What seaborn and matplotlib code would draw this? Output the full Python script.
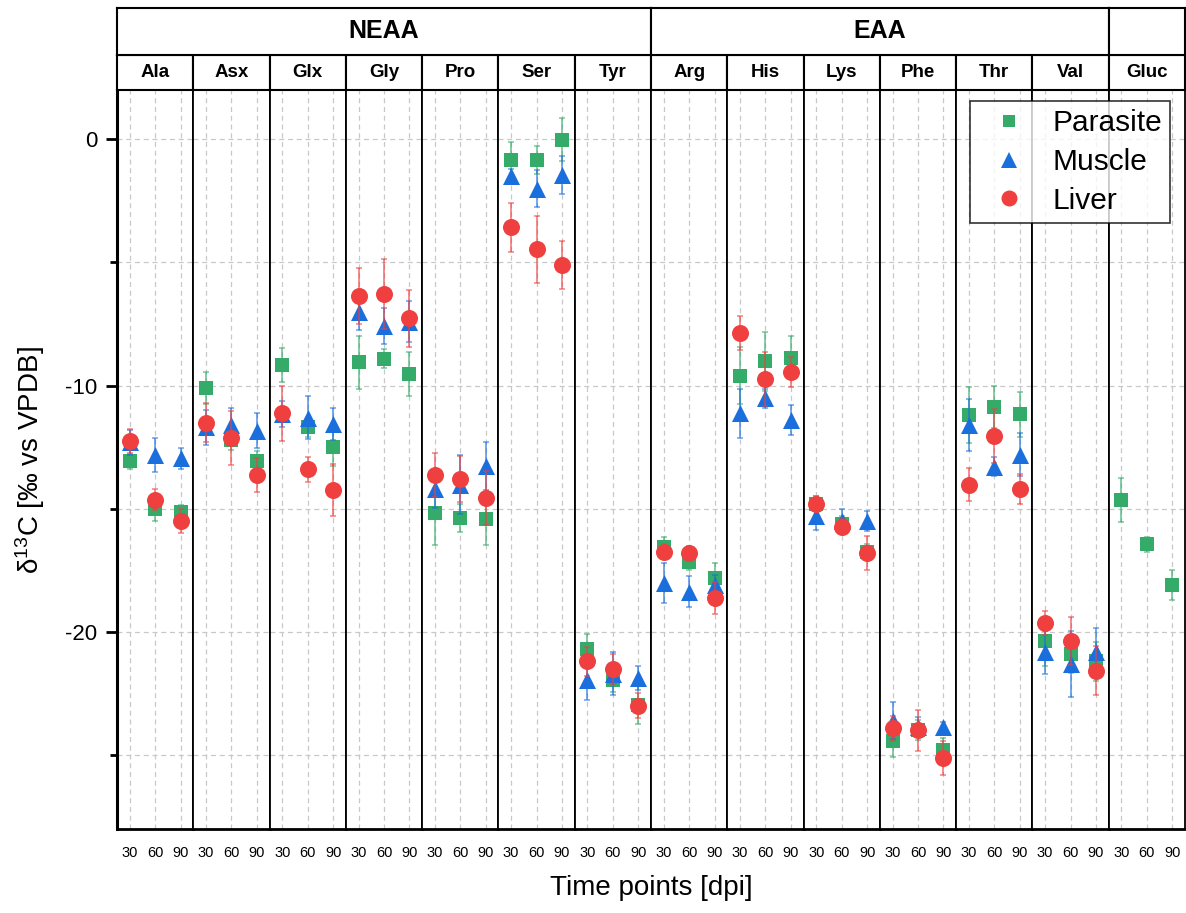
import numpy as np
import pandas as pd
import matplotlib
matplotlib.use("Agg")
import matplotlib.pyplot as plt
import seaborn as sns
from matplotlib.lines import Line2D

# ---------------- data ----------------
panels = ["Ala", "Asx", "Glx", "Gly", "Pro", "Ser", "Tyr",
          "Arg", "His", "Lys", "Phe", "Thr", "Val", "Gluc"]
groups = [("NEAA", 0, 7), ("EAA", 7, 13), ("", 13, 14)]
time_points = [30, 60, 90]
tissues = ["Parasite", "Muscle", "Liver"]

parasite_mean = [
    [-13.07, -15.00, -15.15], [-10.10, -12.20, -13.07], [-9.17, -11.70, -12.50],
    [-9.06, -8.90, -9.53], [-15.19, -15.39, -15.43], [-0.83, -0.83, -0.01],
    [-20.69, -21.95, -22.95], [-16.54, -17.17, -17.82], [-9.59, -9.02, -8.86],
    [-14.80, -15.60, -16.74], [-24.44, -23.98, -24.80], [-11.20, -10.88, -11.17],
    [-20.38, -20.90, -21.20], [-14.66, -16.45, -18.10]]
parasite_err = [
    [0.30, 0.50, 0.30], [0.65, 0.40, 0.40], [0.70, 0.40, 0.78],
    [1.06, 0.39, 0.91], [1.30, 0.57, 1.05], [0.73, 0.56, 0.89],
    [0.60, 0.50, 0.80], [0.40, 0.30, 0.60], [1.14, 1.20, 0.87],
    [0.30, 0.30, 0.30], [0.65, 0.40, 0.50], [1.14, 0.85, 0.93],
    [1.00, 0.75, 0.80], [0.89, 0.30, 0.60]]

muscle_mean = [
    [-12.30, -12.80, -12.95], [-11.70, -11.60, -11.83], [-11.15, -11.30, -11.56],
    [-7.00, -7.60, -7.40], [-14.20, -14.02, -13.25], [-1.49, -2.00, -1.45],
    [-21.97, -21.70, -21.87], [-18.00, -18.36, -18.10], [-11.13, -10.52, -11.39],
    [-15.30, -15.50, -15.50], [-23.60, -23.85, -23.84], [-11.60, -13.29, -12.80],
    [-20.83, -21.30, -20.83], [np.nan, np.nan, np.nan]]
muscle_err = [
    [0.50, 0.69, 0.42], [0.70, 0.70, 0.70], [0.52, 0.88, 0.65],
    [0.74, 0.73, 0.85], [0.77, 1.20, 0.98], [0.30, 0.74, 0.76],
    [0.80, 0.87, 0.49], [0.81, 0.64, 0.40], [1.00, 0.40, 0.60],
    [0.58, 0.50, 0.40], [0.75, 0.40, 0.20], [1.07, 0.40, 0.86],
    [0.88, 1.35, 1.00], [np.nan, np.nan, np.nan]]

liver_mean = [
    [-12.25, -14.63, -15.50], [-11.50, -12.14, -13.63], [-11.13, -13.40, -14.25],
    [-6.37, -6.30, -7.27], [-13.63, -13.79, -14.55], [-3.58, -4.47, -5.10],
    [-21.20, -21.50, -22.99], [-16.74, -16.80, -18.62], [-7.87, -9.74, -9.44],
    [-14.80, -15.73, -16.80], [-23.91, -24.00, -25.12], [-14.02, -12.03, -14.20],
    [-19.63, -20.38, -21.57], [np.nan, np.nan, np.nan]]
liver_err = [
    [0.50, 0.43, 0.50], [0.80, 1.10, 0.68], [1.10, 0.50, 1.06],
    [1.13, 1.42, 1.15], [0.90, 0.93, 1.10], [0.98, 1.36, 0.96],
    [0.60, 0.60, 0.50], [0.30, 0.30, 0.64], [0.70, 1.10, 0.62],
    [0.30, 0.30, 0.70], [0.50, 0.83, 0.70], [0.67, 1.10, 0.60],
    [0.50, 0.98, 0.98], [np.nan, np.nan, np.nan]]

colors = {"Parasite": "#34ab69", "Muscle": "#1a6fdc", "Liver": "#ef3f3f"}
markers = {"Parasite": "s", "Muscle": "^", "Liver": "o"}
sizes = {"Parasite": 100, "Muscle": 150, "Liver": 150}

rows = []
for tissue, means, errs in [("Parasite", parasite_mean, parasite_err),
                            ("Muscle", muscle_mean, muscle_err),
                            ("Liver", liver_mean, liver_err)]:
    for p, m_row, e_row in zip(panels, means, errs):
        for t, m, e in zip(time_points, m_row, e_row):
            rows.append(dict(panel=p, time=t, tissue=tissue, value=m, err=e))
df = pd.DataFrame(rows).dropna()

# ---------------- figure ----------------
sns.set_theme(style="white")
plt.rcParams['font.family'] = ['Liberation Sans', 'DejaVu Sans']
plt.rcParams['mathtext.fontset'] = 'custom'
plt.rcParams['mathtext.rm'] = 'Liberation Sans'
plt.rcParams['mathtext.it'] = 'Liberation Sans:italic'
for key in ['text.color', 'axes.labelcolor', 'xtick.color', 'ytick.color']:
    plt.rcParams[key] = 'black'

W, H = 1186, 913
fig = plt.figure(figsize=(W / 100, H / 100), dpi=100)

left_px, right_px = 117, 1185
top_px, bottom_px = 90, 829
n = len(panels)
pw = (right_px - left_px) / n

def fx(px):
    return px / W

def fy(py):
    return 1 - py / H

axes = []
for i, p in enumerate(panels):
    ax = fig.add_axes([fx(left_px + i * pw), fy(bottom_px), pw / W, (bottom_px - top_px) / H])
    axes.append(ax)
    ax.set_xlim(15, 105)
    ax.set_ylim(-28, 2)
    for yv in range(-25, 1, 5):
        ax.axhline(yv, color="#c8c8c8", lw=0.9, ls=(0, (4, 3)), zorder=0)
    for xv in time_points:
        ax.axvline(xv, color="#c8c8c8", lw=0.9, ls=(0, (4, 3)), zorder=0)
    sub = df[df.panel == p]
    for k, tissue in enumerate(tissues):
        s2 = sub[sub.tissue == tissue]
        if s2.empty:
            continue
        ax.errorbar(s2.time, s2.value, yerr=s2.err, fmt="none", ecolor=colors[tissue],
                    alpha=0.65, elinewidth=1.3, capsize=2.5, capthick=1.1, zorder=2 + 2 * k)
        sns.scatterplot(data=s2, x="time", y="value", marker=markers[tissue],
                        color=colors[tissue], s=sizes[tissue], linewidth=0,
                        ax=ax, legend=False, zorder=3 + 2 * k)
    ax.set_xlabel("")
    ax.set_ylabel("")
    ax.set_xticks(time_points)
    ax.set_xticklabels([str(t) for t in time_points], fontsize=10.5, color="black")
    ax.tick_params(axis="x", length=0, pad=12, colors="black")
    for sp in ax.spines.values():
        sp.set_color("black")
        sp.set_linewidth(1.3)
    ax.spines["bottom"].set_linewidth(2)
    if i == 0:
        ax.spines["left"].set_linewidth(2.2)
        ax.set_yticks([0, -10, -20])
        ax.set_yticklabels(["0", "-10", "-20"], fontsize=16, color="black")
        ax.set_yticks([-5, -15, -25], minor=True)
        ax.tick_params(axis="y", which="major", direction="out", length=8, width=2, pad=6, left=True, colors="black")
        ax.tick_params(axis="y", which="minor", direction="out", length=5, width=2, left=True, colors="black")
    else:
        ax.set_yticks([])
        ax.tick_params(axis="y", left=False)

# header row: panel names
name_top, name_bot = 55, 90
for i, p in enumerate(panels):
    hax = fig.add_axes([fx(left_px + i * pw), fy(name_bot), pw / W, (name_bot - name_top) / H])
    hax.set_xticks([]); hax.set_yticks([])
    for sp in hax.spines.values():
        sp.set_color("black"); sp.set_linewidth(1.5)
    hax.text(0.5, 0.5, p, ha="center", va="center", fontsize=13.5, fontweight="bold",
             color="black", transform=hax.transAxes)

# header row: groups
grp_top = 8
for label, a, b in groups:
    gax = fig.add_axes([fx(left_px + a * pw), fy(name_top), (b - a) * pw / W, (name_top - grp_top) / H])
    gax.set_xticks([]); gax.set_yticks([])
    for sp in gax.spines.values():
        sp.set_color("black"); sp.set_linewidth(1.5)
    gax.text(0.5, 0.5, label, ha="center", va="center", fontsize=18, fontweight="bold",
             color="black", transform=gax.transAxes)

# axis labels
fig.text(fx(30), fy(460), r"δ$^{13}$C [‰ vs VPDB]", rotation=90, ha="center", va="center",
         fontsize=20, color="black")
fig.text(fx((left_px + right_px) / 2), fy(888), "Time points [dpi]", ha="center", va="center",
         fontsize=20, color="black")

# legend
handles = [Line2D([0], [0], marker=markers[t], color="none", markerfacecolor=colors[t],
                  markeredgewidth=0, markersize={"Parasite": 9, "Muscle": 12, "Liver": 11.5}[t],
                  label=t) for t in tissues]
leg = fig.legend(handles=handles, loc="upper left", bbox_to_anchor=(fx(970), fy(101)),
                 fontsize=21.5, frameon=True, fancybox=False, edgecolor="black",
                 handletextpad=0.4, borderpad=0.28, labelspacing=0.36, handlelength=2.07,
                 borderaxespad=0)
leg.get_frame().set_linewidth(1.2)
for txt in leg.get_texts():
    txt.set_color("black")

fig.savefig("out.png", dpi=100)
